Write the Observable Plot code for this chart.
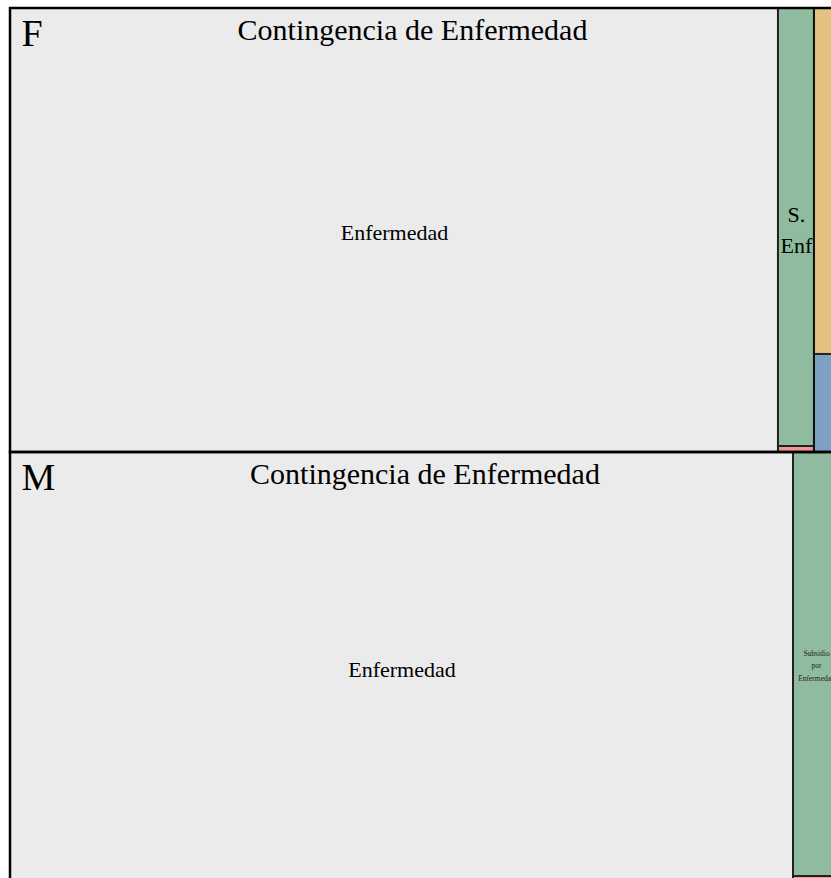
<!DOCTYPE html>
<html>
<head>
<meta charset="utf-8">
<script src="https://cdn.jsdelivr.net/npm/d3@7"></script>
<script src="https://cdn.jsdelivr.net/npm/@observablehq/plot@0.6"></script>
<style>
  html, body { margin: 0; padding: 0; background: #fff; overflow: hidden; }
  svg { display: block; max-width: none !important; }
  svg text { font-family: "Liberation Serif", "Times New Roman", serif !important; }
</style>
</head>
<body>
<div id="chart"></div>
<script>
// ---- data ----
const leafSex    = ["F","F","F","F","F","M","M","M","M","M"];
const leafGroup  = [
  "Contingencia de Enfermedad","Contingencia de Enfermedad","Contingencia de Enfermedad",
  "Otras Contingencias","Otras Contingencias",
  "Contingencia de Enfermedad","Contingencia de Enfermedad","Contingencia de Enfermedad",
  "Otras Contingencias","Otras Contingencias"
];
const leafTipo   = [
  "Enfermedad","Subsidio por Enfermedad","Otros","Maternidad","Parental",
  "Enfermedad","Subsidio por Enfermedad","Otros","Maternidad","Parental"
];
const leafValues = [340990, 15770, 216, 15920, 4510, 336690, 19500, 276, 6300, 2730];
const leafLabels = ["Enfermedad","S.\nEnf","","","","Enfermedad","Subsidio\npor\nEnfermedad","","",""];

const tipos  = ["Enfermedad","Subsidio por Enfermedad","Otros","Maternidad","Parental"];
const colores = ["#ebebeb","#8fbb9f","#f4968f","#e4c17f","#7ea0c5"];

// ---- layout ----
const leaves = leafValues.map((v, i) => ({
  sex: leafSex[i], group: leafGroup[i], tipo: leafTipo[i], value: v, label: leafLabels[i]
}));

const W = 850, H = 874;
const root = d3.hierarchy(d3.group(leaves, d => d.sex, d => d.group))
  .sum(d => d.value || 0)
  .sort((a, b) => b.value - a.value);

d3.treemap()
  .size([W, H])
  .tile((node, x0, y0, x1, y1) =>
    node.depth === 0 ? d3.treemapSlice(node, x0, y0, x1, y1)
                     : d3.treemapSquarify(node, x0, y0, x1, y1))(root);

const sexNodes = root.children.map(n => ({key: n.data[0], x0: n.x0, x1: n.x1, y0: n.y0, y1: n.y1}));
const groupNodes = root.descendants().filter(n => n.depth === 2)
  .map(n => ({key: n.data[0], x0: n.x0, x1: n.x1, y0: n.y0, y1: n.y1}));
const leafNodes = root.leaves().map(n => ({...n.data, x0: n.x0, x1: n.x1, y0: n.y0, y1: n.y1}));

const bigLabels = leafNodes.filter(d => d.label && d.label.split("\n").length <= 2);
const smallLabels = leafNodes.filter(d => d.label && d.label.split("\n").length > 2);
const titled = groupNodes.filter(d => d.x1 - d.x0 > 300);

const font = "'Liberation Serif', 'Times New Roman', serif";

const chart = Plot.plot({
  width: 870,
  height: 890,
  margin: 0,
  style: {fontFamily: font, background: "white", maxWidth: "none"},
  x: {domain: [0, W], range: [10, 860], axis: null},
  y: {domain: [0, H], range: [8, 882], axis: null},
  color: {domain: tipos, range: colores},
  marks: [
    Plot.rect(leafNodes, {x1: "x0", x2: "x1", y1: "y0", y2: "y1", fill: "tipo", stroke: "#222", strokeWidth: 2}),
    Plot.rect(groupNodes, {x1: "x0", x2: "x1", y1: "y0", y2: "y1", fill: "none", stroke: "#111", strokeWidth: 2}),
    Plot.rect(sexNodes, {x1: "x0", x2: "x1", y1: "y0", y2: "y1", fill: "none", stroke: "#000", strokeWidth: 2.5}),
    Plot.text(titled, {x: d => (d.x0 + d.x1) / 2, y: "y0", text: "key", fontSize: 30, lineAnchor: "top", dy: 10, fill: "#000", fontFamily: font}),
    Plot.text(sexNodes, {x: "x0", y: "y0", text: "key", textAnchor: "start", lineAnchor: "top", dx: 11, dy: 11, fontSize: 38, fill: "#000", fontFamily: font}),
    Plot.text(bigLabels, {x: d => (d.x0 + d.x1) / 2, y: d => (d.y0 + d.y1) / 2, text: "label", fontSize: 22, lineHeight: 1.4, fill: "#000", fontFamily: font}),
    Plot.text(smallLabels, {x: d => (d.x0 + d.x1) / 2, y: d => (d.y0 + d.y1) / 2, text: "label", fontSize: 7.5, lineHeight: 1.65, fill: "#222", fontFamily: font})
  ]
});
document.getElementById("chart").appendChild(chart);
</script>
</body>
</html>
